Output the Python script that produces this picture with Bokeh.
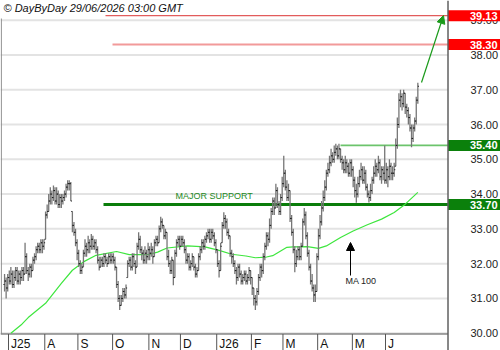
import numpy as np
import pandas as pd
from bokeh.plotting import figure
from bokeh.models import Range1d, Span, Label, Arrow, NormalHead, ColumnDataSource
from bokeh.core.properties import value
from bokeh.embed import file_html
from bokeh.resources import INLINE

# ---------------- data ----------------
start_date = "2025-06-26"

opens = [
    31.4, 31.5, 31.3,
    31.6, 31.5, 31.7, 31.4, 31.6, 31.8, 31.5, 31.7, 31.6, 31.8, 31.7, 32.2, 31.8, 31.7, 31.9, 31.8, 32.1, 32.2, 32.4, 32.5, 32.4, 32.6, 32.5,
    32.7, 33.4, 33.5, 33.8, 34.0, 33.9, 34.1, 33.8, 34.0, 33.7, 33.9, 33.8, 33.9, 34.0, 34.2, 34.3, 34.3, 33.5, 33.1, 32.9, 32.6,
    32.3, 32.0, 31.8, 31.9, 32.3, 32.5, 32.4, 32.6, 32.5, 32.7, 32.5, 32.6, 32.4, 32.1, 31.9, 32.1, 32.0, 32.2, 32.1, 32.0, 32.2, 32.1,
    32.2, 32.1, 31.9, 31.4, 31.0, 30.8, 31.0, 31.2, 31.1, 31.6, 32.0, 32.1, 31.9, 32.2, 32.0, 31.9, 32.5, 32.7, 32.4, 32.3, 32.1, 32.3, 32.2,
    32.4, 32.3, 32.4, 32.2, 32.6, 32.7, 32.6, 33.0, 33.2, 33.1, 32.8, 32.9, 32.2, 32.0, 31.8, 32.1, 31.6, 32.3, 32.6, 32.7,
    32.5, 32.7, 32.6, 32.4, 32.1, 32.2, 31.9, 32.0, 32.2, 31.9, 31.7, 31.8, 32.2, 32.4, 32.6, 32.5, 32.7, 32.8, 32.9, 32.7, 32.9, 32.8, 32.6,
    32.4, 32.0, 31.8, 32.6, 33.1, 33.3, 33.2, 32.9, 32.8, 32.3, 32.2, 32.0, 31.8, 31.6, 31.9, 31.7, 31.5, 31.6, 31.7, 31.5, 31.6, 31.8,
    31.6, 31.3, 31.0, 30.9, 31.2, 31.6, 31.9, 31.8, 32.2, 32.5, 32.8, 32.7, 33.1, 33.5, 33.8, 33.6, 34.1, 33.7, 33.5, 33.9,
    34.3, 34.6, 34.2, 33.9, 34.1, 33.3, 32.9, 32.4, 32.0, 32.2, 32.4, 32.2, 32.5, 33.2, 33.4, 32.8, 32.3, 31.9, 31.5, 31.3, 31.1, 31.2,
    32.2, 32.8, 33.2, 33.6, 33.9, 34.2, 34.6, 34.7, 34.9, 35.1, 35.0, 35.2, 35.3, 35.1, 35.3, 35.0, 34.9, 34.7, 34.9, 34.8, 34.6, 34.9,
    34.7, 34.4, 34.1, 34.0, 34.3, 34.5, 34.7, 34.4, 34.6, 34.2, 34.0, 33.9, 34.1, 34.4, 34.6, 34.8, 34.7, 34.9, 34.5, 34.7, 34.6,
    34.4, 34.7, 34.5, 34.8, 34.6, 34.6, 34.8, 35.4, 36.0, 36.7, 36.8, 36.6, 36.9, 36.5, 36.4, 36.2, 35.9, 35.6, 35.9, 36.1, 36.7,
]
highs = [
    31.7, 31.6, 31.7,
    31.8, 31.9, 31.8, 31.8, 31.9, 31.9, 31.8, 31.8, 31.9, 31.9, 32.6, 32.3, 31.9, 32.0, 32.0, 32.2, 32.3, 32.5, 32.6, 32.6, 32.7, 32.7, 32.7,
    33.5, 33.7, 34.0, 34.2, 34.1, 34.25, 34.2, 34.2, 34.1, 34.0, 34.0, 34.0, 34.1, 34.3, 34.4, 34.4, 34.35, 33.5, 33.2, 33.0, 32.7,
    32.4, 32.1, 32.0, 32.4, 32.7, 32.6, 32.8, 32.7, 32.85, 32.8, 32.7, 32.7, 32.5, 32.2, 32.2, 32.2, 32.3, 32.3, 32.2, 32.3, 32.3, 32.3,
    32.3, 32.2, 31.9, 31.5, 31.1, 31.1, 31.3, 31.3, 31.4, 32.1, 32.2, 32.2, 32.3, 32.3, 32.1, 32.6, 32.9, 32.8, 32.5, 32.4, 32.5, 32.4, 32.6,
    32.5, 32.6, 32.5, 32.7, 32.8, 32.8, 33.1, 33.35, 33.3, 33.1, 33.0, 32.9, 32.4, 32.1, 32.2, 32.1, 32.4, 32.7, 32.8, 32.8,
    32.8, 32.8, 32.7, 32.5, 32.3, 32.3, 32.1, 32.3, 32.2, 32.0, 31.9, 32.3, 32.5, 32.7, 32.7, 32.8, 32.9, 33.0, 33.0, 33.0, 33.0, 32.9, 32.7,
    32.4, 32.1, 32.6, 33.2, 33.48, 33.4, 33.3, 33.0, 32.8, 32.4, 32.3, 32.1, 31.9, 32.0, 32.0, 31.8, 31.7, 31.8, 31.8, 31.7, 31.9, 31.8,
    31.6, 31.3, 31.1, 31.3, 31.7, 32.0, 32.0, 32.3, 32.6, 32.9, 32.9, 33.3, 33.6, 33.9, 33.9, 34.3, 34.2, 33.8, 34.0, 34.5,
    35.1, 34.7, 34.4, 34.3, 34.1, 33.4, 33.0, 32.5, 32.4, 32.5, 32.5, 32.6, 33.3, 33.6, 33.5, 32.9, 32.4, 32.0, 31.7, 31.4, 31.4, 32.3,
    33.0, 33.4, 33.8, 34.1, 34.4, 34.7, 34.9, 35.1, 35.3, 35.2, 35.4, 35.45, 35.4, 35.45, 35.3, 35.1, 35.0, 35.1, 35.0, 34.9, 35.0, 35.0,
    34.8, 34.5, 34.3, 34.5, 34.7, 34.9, 34.8, 34.8, 34.7, 34.3, 34.1, 34.3, 34.5, 34.8, 35.0, 34.9, 35.1, 35.0, 34.8, 34.8, 35.4,
    34.9, 34.8, 35.0, 34.9, 34.8, 34.9, 35.6, 36.2, 36.9, 37.0, 36.9, 37.0, 36.9, 36.6, 36.5, 36.3, 36.0, 36.0, 36.2, 36.8, 37.2,
]
lows = [
    31.2, 31.0, 31.2,
    31.4, 31.4, 31.3, 31.3, 31.5, 31.4, 31.4, 31.4, 31.5, 31.5, 31.7, 31.7, 31.5, 31.6, 31.6, 31.8, 32.0, 32.1, 32.3, 32.3, 32.3, 32.3, 32.4,
    32.7, 33.3, 33.5, 33.7, 33.7, 33.8, 33.7, 33.7, 33.6, 33.6, 33.6, 33.7, 33.8, 33.9, 34.1, 34.1, 33.8, 32.9, 32.8, 32.5, 32.1,
    31.9, 31.7, 31.7, 31.9, 32.2, 32.2, 32.3, 32.3, 32.4, 32.4, 32.4, 32.3, 32.0, 31.8, 31.9, 31.9, 31.9, 32.0, 31.9, 32.0, 32.0, 32.0,
    32.0, 31.8, 31.3, 30.9, 30.67, 30.8, 30.9, 31.0, 31.0, 31.6, 31.9, 31.8, 31.8, 31.9, 31.7, 31.9, 32.4, 32.3, 32.1, 32.0, 32.0, 32.0, 32.1,
    32.1, 32.2, 32.0, 32.2, 32.5, 32.5, 32.6, 32.9, 33.0, 32.7, 32.7, 32.1, 31.9, 31.7, 31.7, 31.38, 31.6, 32.2, 32.5, 32.4,
    32.5, 32.5, 32.3, 32.0, 32.0, 31.8, 31.8, 31.9, 31.8, 31.6, 31.6, 31.8, 32.1, 32.3, 32.4, 32.4, 32.6, 32.7, 32.6, 32.6, 32.7, 32.5, 32.3,
    31.9, 31.6, 31.8, 32.6, 33.0, 33.0, 32.8, 32.7, 32.2, 32.0, 31.9, 31.7, 31.4, 31.5, 31.6, 31.4, 31.4, 31.5, 31.4, 31.4, 31.5, 31.4,
    31.1, 30.8, 30.67, 30.8, 31.1, 31.5, 31.6, 31.7, 32.1, 32.4, 32.5, 32.6, 33.0, 33.4, 33.4, 33.6, 33.6, 33.4, 33.4, 33.8,
    34.2, 34.1, 33.8, 33.8, 33.2, 32.8, 32.3, 31.75, 31.9, 32.1, 32.1, 32.1, 32.5, 33.1, 32.7, 32.2, 31.8, 31.4, 31.2, 30.9, 30.9, 31.2,
    32.1, 32.7, 33.1, 33.5, 33.8, 34.1, 34.5, 34.6, 34.8, 34.9, 34.9, 35.1, 35.0, 35.0, 34.9, 34.7, 34.6, 34.6, 34.6, 34.5, 34.5, 34.5,
    34.2, 33.9, 33.75, 33.9, 34.2, 34.4, 34.3, 34.3, 34.1, 33.9, 33.76, 33.8, 34.0, 34.3, 34.5, 34.5, 34.6, 34.4, 34.3, 34.4, 34.3,
    34.3, 34.2, 34.4, 34.4, 34.4, 34.5, 34.8, 35.3, 35.9, 36.5, 36.4, 36.5, 36.3, 36.2, 36.0, 35.8, 35.35, 35.5, 35.8, 36.0, 36.6,
]
closes = [
    31.5, 31.3, 31.6,
    31.5, 31.7, 31.4, 31.6, 31.8, 31.5, 31.7, 31.6, 31.8, 31.7, 32.2, 31.8, 31.7, 31.9, 31.8, 32.1, 32.2, 32.4, 32.5, 32.4, 32.6, 32.5, 32.6,
    33.4, 33.5, 33.8, 34.0, 33.9, 34.1, 33.8, 34.0, 33.7, 33.9, 33.8, 33.9, 34.0, 34.2, 34.3, 34.3, 33.8, 33.1, 32.9, 32.6, 32.3,
    32.0, 31.8, 31.9, 32.3, 32.5, 32.4, 32.6, 32.5, 32.7, 32.5, 32.6, 32.4, 32.1, 31.9, 32.1, 32.0, 32.2, 32.1, 32.0, 32.2, 32.1, 32.2,
    32.1, 31.9, 31.4, 31.0, 30.8, 31.0, 31.2, 31.1, 31.3, 32.0, 32.1, 31.9, 32.2, 32.0, 31.9, 32.5, 32.7, 32.4, 32.3, 32.1, 32.3, 32.2, 32.4,
    32.3, 32.4, 32.2, 32.6, 32.7, 32.6, 33.0, 33.2, 33.1, 32.8, 32.9, 32.2, 32.0, 31.8, 32.1, 31.6, 32.3, 32.6, 32.7, 32.5,
    32.7, 32.6, 32.4, 32.1, 32.2, 31.9, 32.0, 32.2, 31.9, 31.7, 31.8, 32.2, 32.4, 32.6, 32.5, 32.7, 32.8, 32.9, 32.7, 32.9, 32.8, 32.6, 32.4,
    32.0, 31.8, 32.5, 33.1, 33.3, 33.2, 32.9, 32.8, 32.3, 32.2, 32.0, 31.8, 31.6, 31.9, 31.7, 31.5, 31.6, 31.7, 31.5, 31.6, 31.8, 31.6,
    31.3, 31.0, 30.9, 31.2, 31.6, 31.9, 31.8, 32.2, 32.5, 32.8, 32.7, 33.1, 33.5, 33.8, 33.6, 34.1, 33.7, 33.5, 33.9, 34.3,
    34.6, 34.2, 33.9, 34.1, 33.3, 32.9, 32.4, 32.0, 32.2, 32.4, 32.2, 32.5, 33.2, 33.4, 32.8, 32.3, 31.9, 31.5, 31.3, 31.1, 31.2, 32.2,
    32.8, 33.2, 33.6, 33.9, 34.2, 34.6, 34.7, 34.9, 35.1, 35.0, 35.2, 35.3, 35.1, 35.3, 35.0, 34.9, 34.7, 34.9, 34.8, 34.6, 34.9, 34.7,
    34.4, 34.1, 34.0, 34.3, 34.5, 34.7, 34.4, 34.6, 34.2, 34.0, 33.9, 34.1, 34.4, 34.6, 34.8, 34.7, 34.9, 34.5, 34.7, 34.6, 34.4,
    34.7, 34.5, 34.8, 34.6, 34.6, 34.7, 35.4, 36.0, 36.7, 36.8, 36.6, 36.9, 36.5, 36.4, 36.2, 35.9, 35.6, 35.9, 36.1, 36.7, 37.1,
]

ma_dates = ["2025-07-02", "2025-07-11", "2025-07-17", "2025-08-01", "2025-08-15", "2025-08-26",
            "2025-09-04", "2025-09-16", "2025-10-03", "2025-10-15", "2025-10-31", "2025-11-10",
            "2025-11-18", "2025-12-05", "2025-12-22", "2026-01-02", "2026-01-14", "2026-01-27",
            "2026-02-04", "2026-02-13", "2026-02-19", "2026-03-04", "2026-03-10", "2026-03-23",
            "2026-04-01", "2026-04-08", "2026-04-21", "2026-05-01", "2026-05-14", "2026-05-27",
            "2026-06-08", "2026-06-17", "2026-06-29"]
ma_values = [30.0, 30.26, 30.45, 30.86, 31.43, 31.81,
             32.05, 32.24, 32.35, 32.26, 32.26, 32.33,
             32.45, 32.51, 32.48, 32.38, 32.27, 32.22,
             32.17, 32.19, 32.23, 32.47, 32.48, 32.49,
             32.44, 32.51, 32.75, 32.94, 33.12, 33.28,
             33.47, 33.71, 34.05]

y_ticks = [30, 31, 32, 33, 34, 35, 36, 37, 38, 39]
month_labels = ["J25", "A", "S", "O", "N", "D", "J26", "F", "M", "A", "M", "J"]

resistance_levels = [39.13, 38.30]
support_levels = [35.40, 33.70]
header_text = "© DayByDay 29/06/2026 03:00 GMT"

# ---------------- layout ----------------
FONT = "Liberation Sans"
W, H = 500, 350
PLOT_R = 447                 # right edge of the price area (px)
PPU = 377.0 / 239.0          # px per trading day
XL = 2.5 - 8.0 / PPU
XR = XL + W / PPU
PPY = 34.78                  # px per unit of price
YT = 39.566
YB = YT - H / PPY


def px2x(px):
    return XL + px / PPU


def py2y(py):
    return YT - py / PPY


XEDGE = px2x(PLOT_R)

n = min(len(opens), len(highs), len(lows), len(closes))
dates = pd.bdate_range(start_date, periods=n)
idx = np.arange(n, dtype=float)
src = ColumnDataSource(dict(i=idx, il=idx - 0.7, ir=idx + 0.7,
                            o=opens[:n], h=highs[:n], l=lows[:n], c=closes[:n]))

p = figure(width=W, height=H, x_range=Range1d(XL, XR), y_range=Range1d(YB, YT),
           output_backend="svg", toolbar_location=None,
           x_axis_location=None, y_axis_location=None,
           min_border_left=0, min_border_right=0, min_border_top=0, min_border_bottom=0,
           background_fill_color="white", border_fill_color="white", outline_line_color=None)
p.grid.visible = False

# horizontal grid + price scale
p.segment(x0=[XL] * len(y_ticks), y0=y_ticks, x1=[XEDGE] * len(y_ticks), y1=y_ticks,
          line_color="#e3e3e3", line_width=2)
p.text(x=[px2x(470)] * len(y_ticks), y=y_ticks, text=[f"{t:.2f}" for t in y_ticks],
       text_baseline="middle", text_align="left", text_font=value(FONT),
       text_font_size="11px", text_color="#222222")
p.add_layout(Span(location=px2x(PLOT_R + 0.5), dimension="height",
                  line_color="#111111", line_width=1))

# month band
band_y = py2y(333.5)
p.segment(x0=[XL], y0=[band_y], x1=[XEDGE], y1=[band_y], line_color="#555555", line_width=1)
month_idx = [i for i in range(1, n) if dates[i].month != dates[i - 1].month][:len(month_labels)]
seps = [i - 0.5 for i in month_idx]
p.segment(x0=seps, y0=[YB] * len(seps), x1=seps, y1=[band_y] * len(seps),
          line_color="#555555", line_width=1)
p.text(x=[s + 2.5 / PPU for s in seps], y=[py2y(343)] * len(seps), text=month_labels[:len(seps)],
       text_baseline="middle", text_align="left", text_font=value(FONT),
       text_font_size="12px", text_color="#111111")

# left border
p.segment(x0=[px2x(0.8)], y0=[band_y], x1=[px2x(0.8)], y1=[py2y(18)],
          line_color="#888888", line_width=1)

# level lines
p.segment(x0=[px2x(105)], y0=[resistance_levels[0]], x1=[XEDGE], y1=[resistance_levels[0]],
          line_color="#e25c5c", line_width=1.3)
p.segment(x0=[px2x(112)], y0=[resistance_levels[1]], x1=[XEDGE], y1=[resistance_levels[1]],
          line_color="#f29a9a", line_width=2)
p.segment(x0=[px2x(340)], y0=[support_levels[0]], x1=[XEDGE], y1=[support_levels[0]],
          line_color="#6cc46c", line_width=1.6)
p.segment(x0=[px2x(103)], y0=[support_levels[1]], x1=[XEDGE], y1=[support_levels[1]],
          line_color="#0a7d0a", line_width=3)

# moving average
ma_x = [float(dates.get_loc(pd.Timestamp(d))) for d in ma_dates]
p.line(ma_x, ma_values, line_color="#3ee63e", line_width=1.2)

# OHLC bars
p.segment(x0="i", y0="l", x1="i", y1="h", source=src, line_color="#767676", line_width=1.3)
p.segment(x0="il", y0="o", x1="i", y1="o", source=src, line_color="#1a1a1a", line_width=1)
p.segment(x0="i", y0="c", x1="ir", y1="c", source=src, line_color="#1a1a1a", line_width=1)

# annotations
p.add_layout(Label(x=px2x(3), y=py2y(7.5), text=header_text, text_font=FONT,
                   text_font_style="italic", text_font_size="11px", text_baseline="middle",
                   text_color="#111111"))
p.add_layout(Label(x=px2x(175), y=py2y(195), text="MAJOR SUPPORT", text_font=FONT,
                   text_font_size="9px", text_baseline="middle", text_color="#238a23"))
p.add_layout(Label(x=px2x(345), y=py2y(280), text="MA 100", text_font=FONT,
                   text_font_size="9px", text_baseline="middle", text_color="#222222"))
p.add_layout(Arrow(end=NormalHead(size=8, fill_color="black", line_color="black", line_width=1),
                   x_start=px2x(350), y_start=py2y(275), x_end=px2x(350), y_end=py2y(242),
                   line_color="black", line_width=1))
p.add_layout(Arrow(end=NormalHead(size=8, fill_color="#1a9a1a", line_color="#1a9a1a", line_width=1),
                   x_start=px2x(421), y_start=py2y(82), x_end=px2x(443), y_end=py2y(15),
                   line_color="#1a9a1a", line_width=1.2))

# price boxes on the scale
box_levels = resistance_levels + support_levels
box_colors = ["#ff0000", "#ff0000", "#0b800b", "#0b800b"]
half = 5.5 / PPY
p.quad(left=[px2x(PLOT_R + 1)] * 4, right=[XR] * 4,
       bottom=[v - half for v in box_levels], top=[v + half for v in box_levels],
       fill_color=box_colors, line_color=None)
p.text(x=[px2x(497)] * 4, y=box_levels, text=[f"{v:.2f}" for v in box_levels],
       text_align="right", text_baseline="middle", text_font=value(FONT),
       text_font_style="bold", text_font_size="11px", text_color="white")

open("out.html", "w").write(file_html(p, INLINE))
